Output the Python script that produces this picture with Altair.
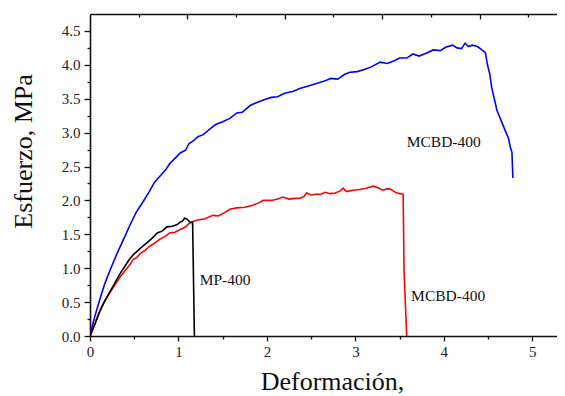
import altair as alt
import pandas as pd

# ---------------- data ----------------
blue_x = [0.00, 0.03, 0.07, 0.12, 0.17, 0.23, 0.30, 0.37, 0.45, 0.52, 0.60, 0.67, 0.73,
          0.80, 0.86, 0.90, 0.96, 1.02, 1.08, 1.12, 1.16, 1.22, 1.28, 1.36, 1.42, 1.50,
          1.58, 1.66, 1.72, 1.81, 1.88, 1.96, 2.05, 2.12, 2.20, 2.30, 2.37, 2.45, 2.55,
          2.65, 2.72, 2.80, 2.88, 2.94, 3.02, 3.10, 3.18, 3.28, 3.36, 3.44, 3.50, 3.58,
          3.65, 3.72, 3.80, 3.88, 3.96, 4.02, 4.10, 4.15, 4.20, 4.24, 4.28, 4.32, 4.38,
          4.43, 4.47, 4.49, 4.52, 4.54, 4.57, 4.60, 4.65, 4.69, 4.73, 4.75, 4.77, 4.78]
blue_y = [0.00, 0.17, 0.36, 0.58, 0.78, 0.98, 1.20, 1.40, 1.63, 1.82, 1.98, 2.13, 2.27,
          2.37, 2.46, 2.54, 2.62, 2.70, 2.74, 2.84, 2.87, 2.94, 2.97, 3.06, 3.12, 3.16,
          3.21, 3.29, 3.30, 3.40, 3.44, 3.48, 3.52, 3.53, 3.58, 3.61, 3.65, 3.68, 3.72,
          3.76, 3.80, 3.79, 3.86, 3.89, 3.90, 3.93, 3.97, 4.04, 4.02, 4.06, 4.10, 4.10,
          4.16, 4.13, 4.17, 4.22, 4.21, 4.26, 4.29, 4.25, 4.24, 4.32, 4.27, 4.29, 4.27,
          4.22, 4.18, 4.02, 3.86, 3.67, 3.50, 3.33, 3.17, 3.04, 2.92, 2.79, 2.71, 2.33]

red_x = [0.00, 0.03, 0.06, 0.11, 0.16, 0.22, 0.28, 0.34, 0.40, 0.45, 0.49, 0.53, 0.57,
         0.62, 0.67, 0.72, 0.79, 0.85, 0.90, 0.96, 1.02, 1.07, 1.12, 1.16, 1.22, 1.30,
         1.39, 1.45, 1.52, 1.58, 1.66, 1.75, 1.84, 1.90, 1.96, 2.05, 2.12, 2.18, 2.25,
         2.32, 2.37, 2.42, 2.45, 2.50, 2.55, 2.61, 2.66, 2.71, 2.77, 2.83, 2.86, 2.90,
         2.97, 3.05, 3.12, 3.20, 3.25, 3.31, 3.36, 3.39, 3.44, 3.47, 3.51, 3.54, 3.55,
         3.58]
red_y = [0.00, 0.10, 0.20, 0.37, 0.50, 0.63, 0.75, 0.87, 0.97, 1.05, 1.13, 1.16, 1.22,
         1.26, 1.32, 1.36, 1.43, 1.47, 1.52, 1.53, 1.57, 1.60, 1.66, 1.69, 1.71, 1.73,
         1.78, 1.77, 1.82, 1.87, 1.89, 1.90, 1.93, 1.96, 2.00, 2.00, 2.02, 2.05, 2.02,
         2.03, 2.03, 2.06, 2.11, 2.08, 2.09, 2.09, 2.12, 2.10, 2.11, 2.14, 2.18, 2.13,
         2.15, 2.16, 2.18, 2.21, 2.19, 2.15, 2.17, 2.17, 2.13, 2.11, 2.10, 2.09, 0.97,
         0.00]

black_x = [0.00, 0.03, 0.06, 0.11, 0.16, 0.22, 0.28, 0.34, 0.40, 0.44, 0.49, 0.55, 0.60,
           0.65, 0.70, 0.76, 0.82, 0.87, 0.93, 0.98, 1.02, 1.05, 1.07, 1.10, 1.13, 1.16,
           1.18]
black_y = [0.00, 0.09, 0.19, 0.36, 0.50, 0.64, 0.78, 0.92, 1.04, 1.12, 1.20, 1.27, 1.33,
           1.38, 1.44, 1.52, 1.55, 1.61, 1.62, 1.64, 1.68, 1.70, 1.74, 1.72, 1.68, 1.67,
           0.00]

series_names = ["MCBD-400 (a)", "MCBD-400 (b)", "MP-400"]
series_colors = ["#0000FF", "#FF0000", "#000000"]

label_text = ["MCBD-400", "MP-400", "MCBD-400"]
label_x = [3.58, 1.24, 3.63]
label_y = [2.86, 0.82, 0.59]

x_ticks = [0, 0.5, 1, 1.5, 2, 2.5, 3, 3.5, 4, 4.5, 5]
y_ticks = [0, 0.25, 0.5, 0.75, 1, 1.25, 1.5, 1.75, 2, 2.25, 2.5, 2.75, 3, 3.25, 3.5,
           3.75, 4, 4.25, 4.5]
top_major_ticks = [1.101, 2.202, 3.303, 4.404]
top_minor_ticks = [0.5505, 1.6515, 2.7525, 3.8535, 4.9545]

X_DOMAIN = [0, 5.279]
Y_DOMAIN = [0, 4.75]

# ---------------- tables ----------------
rows = []
for name, xs_, ys_ in zip(series_names, [blue_x, red_x, black_x], [blue_y, red_y, black_y]):
    for i, (a, b) in enumerate(zip(xs_, ys_)):
        rows.append({"series": name, "x": a, "y": b, "order": i})
df = pd.DataFrame(rows)
labels_df = pd.DataFrame({"x": label_x, "y": label_y, "label": label_text})
top_major_df = pd.DataFrame({"t": top_major_ticks})
top_minor_df = pd.DataFrame({"t": top_minor_ticks})

FONT = "Liberation Serif"


def xscale():
    return alt.Scale(domain=X_DOMAIN, nice=False, zero=False)


def yscale():
    return alt.Scale(domain=Y_DOMAIN, nice=False, zero=False)


lines = alt.Chart(df).mark_line(strokeWidth=1.6, clip=True).encode(
    x=alt.X("x:Q", scale=xscale(), axis=alt.Axis(
        orient="bottom", values=x_ticks, grid=False,
        labelExpr="datum.value % 1 === 0 ? format(datum.value, 'd') : ''",
        tickSize={"condition": {"test": "datum.value % 1 === 0", "value": 5}, "value": 3},
        tickColor="#111", tickWidth=1.3, domainColor="#111", domainWidth=1.6,
        labelFont=FONT, labelFontSize=15, labelColor="#222", labelPadding=3,
        labelFlush=False, labelOverlap=False,
        title="Deformación,", titleFont=FONT, titleFontSize=26, titleFontWeight="normal",
        titleColor="#111", titleX=242, titleY=53, titleAlign="center",
        titleBaseline="alphabetic")),
    y=alt.Y("y:Q", scale=yscale(), axis=alt.Axis(
        orient="left", values=y_ticks, grid=False,
        labelExpr="datum.value % 0.5 === 0 ? format(datum.value, '.1f') : ''",
        tickSize={"condition": {"test": "datum.value % 0.5 === 0", "value": 6}, "value": 3},
        tickColor="#111", tickWidth=1.3, domainColor="#111", domainWidth=1.6,
        labelFont=FONT, labelFontSize=15, labelColor="#222", labelPadding=4,
        labelFlush=False, labelOverlap=False,
        title="Esfuerzo, MPa", titleFont=FONT, titleFontSize=26, titleFontWeight="normal",
        titleColor="#111", titleX=-67, titleY=137, titleAngle=-90, titleAlign="center",
        titleBaseline="middle")),
    color=alt.Color("series:N", scale=alt.Scale(domain=series_names, range=series_colors),
                    legend=None),
    order=alt.Order("order:Q"),
)

texts = alt.Chart(labels_df).mark_text(
    align="left", baseline="middle", font=FONT, fontSize=15.5, color="#111"
).encode(
    x=alt.X("x:Q", scale=xscale(), axis=None),
    y=alt.Y("y:Q", scale=yscale(), axis=None),
    text="label:N",
)

top_border = alt.Chart(top_major_df).mark_point(opacity=0).encode(
    x=alt.X("t:Q", scale=xscale(), axis=alt.Axis(
        orient="top", ticks=False, labels=False, grid=False, title=None,
        domain=True, domainColor="#111", domainWidth=1.6)),
)

top_major = alt.Chart(top_major_df).mark_point(opacity=0).encode(
    x=alt.X("t:Q", scale=xscale(), axis=alt.Axis(
        orient="top", values=top_major_ticks, labels=False, grid=False, title=None,
        domain=False, ticks=True, tickSize=5, tickWidth=1.3, tickColor="#111", offset=-5)),
)

top_minor = alt.Chart(top_minor_df).mark_point(opacity=0).encode(
    x=alt.X("t:Q", scale=xscale(), axis=alt.Axis(
        orient="top", values=top_minor_ticks, labels=False, grid=False, title=None,
        domain=False, ticks=True, tickSize=3, tickWidth=1.3, tickColor="#111", offset=-3)),
)

chart = alt.layer(lines, texts, top_border, top_major, top_minor).resolve_axis(
    x="independent", y="independent"
).properties(
    width=467, height=322,
    autosize=alt.AutoSizeParams(type="none"),
    padding={"left": 82, "top": 6, "right": 0, "bottom": 64},
    background="white",
).configure_view(stroke=None)

chart.save("out.html", embed_options={"renderer": "svg", "actions": False})
